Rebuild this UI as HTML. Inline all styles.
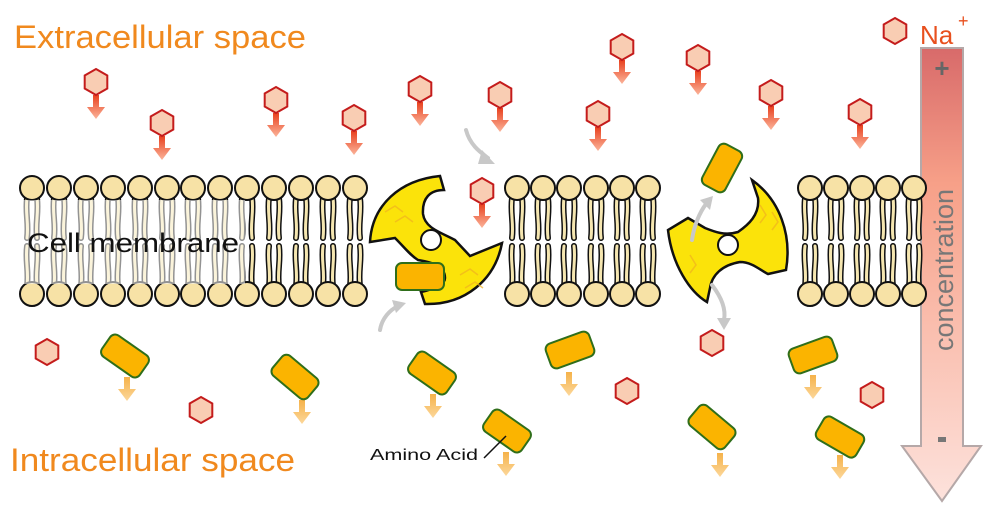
<!DOCTYPE html>
<html><head><meta charset="utf-8"><style>html,body{margin:0;padding:0;background:#fff}svg{display:block}</style></head>
<body>
<svg width="987" height="512" viewBox="0 0 987 512" xmlns="http://www.w3.org/2000/svg">
<defs>
<linearGradient id="bar" x1="0" y1="0" x2="0" y2="1">
<stop offset="0" stop-color="#d86a6a"/><stop offset="0.3" stop-color="#f7a088"/><stop offset="1" stop-color="#fde2dc"/>
</linearGradient>
<linearGradient id="ra" x1="0" y1="0" x2="0" y2="1"><stop offset="0" stop-color="#e8401e"/><stop offset="1" stop-color="#fbb49a"/></linearGradient>
<linearGradient id="oa" x1="0" y1="0" x2="0" y2="1"><stop offset="0" stop-color="#f5b24a"/><stop offset="1" stop-color="#fcd79a"/></linearGradient>
<g id="hex"><polygon points="0,-13 11.3,-6.5 11.3,6.5 0,13 -11.3,6.5 -11.3,-6.5" fill="#f9cdb3" stroke="#c41c1c" stroke-width="2"/></g>
<g id="na"><path d="M-3,13 h6 v12 h6 l-9,12 l-9,-12 h6z" fill="url(#ra)"/><use href="#hex"/></g>
<g id="aa"><rect x="-23" y="-13" width="46" height="26" rx="6" fill="#fbb400" stroke="#2f6e1a" stroke-width="2"/></g>
<g id="oarr"><path d="M-3,0 h6 v12 h6 l-9,12 l-9,-12 h6z" fill="url(#oa)"/></g>
<g id="lip">
<path d="M-5,10 C-7,25 -3,35 -5,50 M5,10 C7,25 3,35 5,50" stroke="#111" stroke-width="6" fill="none" stroke-linecap="round"/>
<path d="M-5,10 C-7,25 -3,35 -5,50 M5,10 C7,25 3,35 5,50" stroke="#f5e6b0" stroke-width="3" fill="none" stroke-linecap="round"/>
<path d="M-5,58 C-7,73 -3,83 -5,98 M5,58 C7,73 3,83 5,98" stroke="#111" stroke-width="6" fill="none" stroke-linecap="round"/>
<path d="M-5,58 C-7,73 -3,83 -5,98 M5,58 C7,73 3,83 5,98" stroke="#f5e6b0" stroke-width="3" fill="none" stroke-linecap="round"/>
<circle cx="0" cy="0" r="12" fill="#f7e2a6" stroke="#111" stroke-width="2"/>
<circle cx="0" cy="106" r="12" fill="#f7e2a6" stroke="#111" stroke-width="2"/>
</g>
</defs>

<path d="M921,48 H963 V446 H981 L942,501 L902,446 H921 Z" fill="url(#bar)" stroke="#b5a8a8" stroke-width="2"/>
<text x="942" y="77" font-family="Liberation Sans, sans-serif" font-size="26" font-weight="bold" fill="#666" text-anchor="middle">+</text>
<rect x="938" y="437" width="8" height="5" fill="#777"/>
<text transform="translate(953,270) rotate(-90)" font-family="Liberation Sans, sans-serif" font-size="27" fill="#777" text-anchor="middle">concentration</text>
<use href="#hex" x="895" y="31"/>
<text x="920" y="44" font-family="Liberation Sans, sans-serif" font-size="26" fill="#e8501e">Na</text>
<text x="958" y="27" font-family="Liberation Sans, sans-serif" font-size="18" fill="#e8501e">+</text>

<g>
<use href="#lip" x="32" y="188"/><use href="#lip" x="59" y="188"/><use href="#lip" x="86" y="188"/><use href="#lip" x="113" y="188"/><use href="#lip" x="140" y="188"/><use href="#lip" x="167" y="188"/><use href="#lip" x="193" y="188"/><use href="#lip" x="220" y="188"/><use href="#lip" x="247" y="188"/><use href="#lip" x="274" y="188"/><use href="#lip" x="301" y="188"/><use href="#lip" x="328" y="188"/><use href="#lip" x="355" y="188"/>
<use href="#lip" x="517" y="188"/><use href="#lip" x="543" y="188"/><use href="#lip" x="569" y="188"/><use href="#lip" x="596" y="188"/><use href="#lip" x="622" y="188"/><use href="#lip" x="648" y="188"/>
<use href="#lip" x="810" y="188"/><use href="#lip" x="836" y="188"/><use href="#lip" x="862" y="188"/><use href="#lip" x="888" y="188"/><use href="#lip" x="914" y="188"/>
</g>
<rect x="20" y="200" width="225" height="84" fill="#fff" opacity="0.55"/>
<text x="27" y="252" font-family="Liberation Sans, sans-serif" font-size="27" fill="#111" textLength="212" lengthAdjust="spacingAndGlyphs">Cell membrane</text>

<path d="M370,242 C372,205 400,180 440,176 L444,190 C430,190 422,198 423,214 C425,228 440,232 455,240 L470,256 L502,243 C495,280 465,305 425,304 L421,292 C430,290 445,286 445,278 C445,265 430,262 418,260 C410,255 405,248 395,238 Z" fill="#fbe30a" stroke="#111" stroke-width="2.5"/>
<circle cx="431" cy="240" r="10" fill="#fff" stroke="#111" stroke-width="2"/>
<path d="M385,212 l10,-6 l8,6 M395,222 l10,-6 l8,6 M460,275 l10,-6 l8,6 M465,288 l10,-6 l8,6" stroke="#f0b020" stroke-width="1.5" fill="none" opacity="0.7"/>
<rect x="396" y="263" width="48" height="27" rx="6" fill="#fbb400" stroke="#2f6e1a" stroke-width="2"/>

<path d="M668,230 C672,265 690,292 707,302 L710,288 C712,275 722,265 740,262 C752,262 760,270 768,274 L786,270 C792,235 780,200 752,180 L758,198 C760,215 748,225 738,232 C725,236 715,232 705,228 L688,218 Z" fill="#fbe30a" stroke="#111" stroke-width="2.5"/>
<circle cx="728" cy="245" r="10" fill="#fff" stroke="#111" stroke-width="2"/>
<path d="M760,205 l6,10 l-6,8 M772,212 l6,10 l-6,8 M690,255 l6,10 l-6,8" stroke="#f0b020" stroke-width="1.5" fill="none" opacity="0.7"/>

<g stroke="#c8c8c8" stroke-width="4" fill="none" stroke-linecap="round">
<path d="M466,130 C470,145 480,152 488,158"/>
<path d="M380,330 C382,318 390,310 398,306"/>
<path d="M692,240 C694,225 700,212 706,204"/>
<path d="M712,285 C722,298 726,310 724,320"/>
</g>
<g fill="#c8c8c8">
<polygon points="482,150 495,164 478,164"/>
<polygon points="392,300 406,303 396,313"/>
<polygon points="700,200 713,196 710,210"/>
<polygon points="717,318 731,318 724,330"/>
</g>

<use href="#na" x="96" y="82"/><use href="#na" x="162" y="123"/><use href="#na" x="276" y="100"/><use href="#na" x="354" y="118"/>
<use href="#na" x="420" y="89"/><use href="#na" x="500" y="95"/><use href="#na" x="622" y="47"/><use href="#na" x="598" y="114"/>
<use href="#na" x="698" y="58"/><use href="#na" x="771" y="93"/><use href="#na" x="860" y="112"/><use href="#na" x="482" y="191"/>
<use href="#hex" x="47" y="352"/><use href="#hex" x="201" y="410"/><use href="#hex" x="712" y="343"/><use href="#hex" x="627" y="391"/><use href="#hex" x="872" y="395"/>

<use href="#oarr" x="127" y="377"/><use href="#oarr" x="302" y="400"/><use href="#oarr" x="433" y="394"/><use href="#oarr" x="506" y="452"/>
<use href="#oarr" x="569" y="372"/><use href="#oarr" x="720" y="453"/><use href="#oarr" x="813" y="375"/><use href="#oarr" x="840" y="455"/>
<use href="#aa" transform="translate(125,356) rotate(35)"/>
<use href="#aa" transform="translate(295,377) rotate(40)"/>
<use href="#aa" transform="translate(432,373) rotate(35)"/>
<use href="#aa" transform="translate(507,431) rotate(35)"/>
<use href="#aa" transform="translate(570,350) rotate(-20)"/>
<use href="#aa" transform="translate(712,427) rotate(40)"/>
<use href="#aa" transform="translate(813,355) rotate(-20)"/>
<use href="#aa" transform="translate(840,437) rotate(30)"/>
<use href="#aa" transform="translate(722,168) rotate(-62)"/>

<line x1="484" y1="458" x2="506" y2="436" stroke="#111" stroke-width="1.5"/>
<text x="370" y="460" font-family="Liberation Sans, sans-serif" font-size="16" fill="#111" textLength="108" lengthAdjust="spacingAndGlyphs">Amino Acid</text>

<text x="14" y="48" font-family="Liberation Sans, sans-serif" font-size="32" fill="#f0891e" textLength="292" lengthAdjust="spacingAndGlyphs">Extracellular space</text>
<text x="10" y="471" font-family="Liberation Sans, sans-serif" font-size="32" fill="#f0891e" textLength="285" lengthAdjust="spacingAndGlyphs">Intracellular space</text>
</svg>
</body></html>
